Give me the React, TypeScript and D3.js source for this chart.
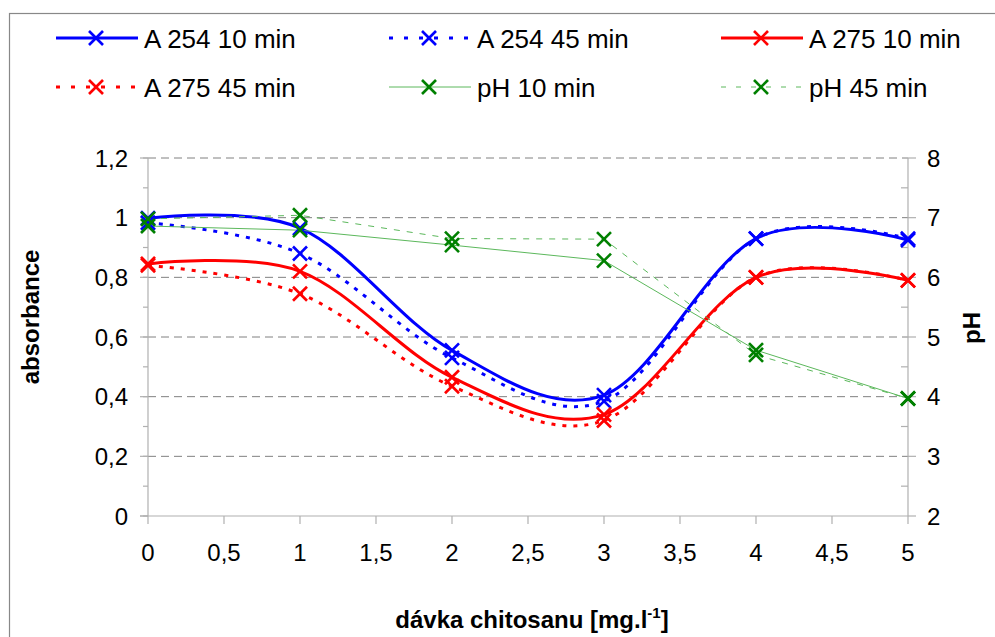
import React from "react";
import * as d3 from "d3";

const doses = [0, 1, 2, 3, 4, 5];
const a254_10 = [0.998, 0.965, 0.555, 0.405, 0.93, 0.925];
const a254_45 = [0.983, 0.88, 0.53, 0.385, 0.93, 0.93];
const a275_10 = [0.845, 0.82, 0.465, 0.34, 0.8, 0.79];
const a275_45 = [0.84, 0.745, 0.435, 0.32, 0.8, 0.79];
const ph_10 = [6.86, 6.79, 6.54, 6.28, 4.78, 3.97];
const ph_45 = [6.98, 7.04, 6.65, 6.64, 4.7, 3.97];

const xTicks = [0, 0.5, 1, 1.5, 2, 2.5, 3, 3.5, 4, 4.5, 5];
const yLeftTicks = [0, 0.2, 0.4, 0.6, 0.8, 1, 1.2];
const yRightTicks = [2, 3, 4, 5, 6, 7, 8];

const fmt = (v: number) => String(+v.toFixed(2)).replace(".", ",");

type Series = {
  name: string;
  values: number[];
  axis: "L" | "R";
  color: string;
  width: number;
  dash: string | null;
  legendDash: string | null;
  smooth: boolean;
  lineColor?: string;
};

const series: Series[] = [
  { name: "A 254 10 min", values: a254_10, axis: "L", color: "#0000ff", width: 3, dash: null, legendDash: null, smooth: true },
  { name: "A 254 45 min", values: a254_45, axis: "L", color: "#0000ff", width: 3, dash: "4,7", legendDash: "4,11", smooth: true },
  { name: "A 275 10 min", values: a275_10, axis: "L", color: "#ff0000", width: 3, dash: null, legendDash: null, smooth: true },
  { name: "A 275 45 min", values: a275_45, axis: "L", color: "#ff0000", width: 3, dash: "4,7", legendDash: "4,11", smooth: true },
  { name: "pH 10 min", values: ph_10, axis: "R", color: "#008000", width: 1, dash: null, legendDash: null, smooth: false, lineColor: "#5cb85c" },
  { name: "pH 45 min", values: ph_45, axis: "R", color: "#008000", width: 1, dash: "6,7", legendDash: "5,10", smooth: false, lineColor: "#5cb85c" },
];

const FONT = "'Liberation Sans', Arial, sans-serif";

function XMark({ cx, cy, color, r = 7, w = 2.6 }: { cx: number; cy: number; color: string; r?: number; w?: number }) {
  return (
    <g stroke={color} strokeWidth={w}>
      <line x1={cx - r} y1={cy - r} x2={cx + r} y2={cy + r} />
      <line x1={cx - r} y1={cy + r} x2={cx + r} y2={cy - r} />
    </g>
  );
}

export default function App() {
  const x = d3.scaleLinear().domain([0, 5]).range([148, 908]);
  const yL = d3.scaleLinear().domain([0, 1.2]).range([516, 158]);
  const yR = d3.scaleLinear().domain([2, 8]).range([516, 158]);

  const minorL = d3.range(0, 1.2001, 0.1);
  const minorR = d3.range(2.5, 8, 1);

  const legendCols = [56, 389, 721];
  const legendRows = [38, 87];

  return (
    <svg
      width={995}
      height={637}
      style={{ position: "absolute", left: 0, top: 0, background: "#fff" }}
      fontFamily={FONT}
    >
      <rect x={0} y={0} width={995} height={637} fill="#fff" />
      <rect x={9.5} y={13.5} width={1000} height={700} fill="none" stroke="#888" strokeWidth={1.2} />

      {/* gridlines */}
      {yLeftTicks.slice(1).map((t) => (
        <line key={"g" + t} x1={148} x2={908} y1={yL(t)} y2={yL(t)} stroke="#808080" strokeWidth={1} strokeDasharray="8,5" />
      ))}

      {/* axes */}
      <g stroke="#b0b0b0" strokeWidth={1.2}>
        <line x1={148} x2={148} y1={158} y2={516} />
        <line x1={908} x2={908} y1={158} y2={516} />
        <line x1={140} x2={908} y1={516} y2={516} />
        {minorL.map((t) => (
          <line key={"ml" + t} x1={143} x2={148} y1={yL(t)} y2={yL(t)} />
        ))}
        {yLeftTicks.map((t) => (
          <line key={"tl" + t} x1={140} x2={148} y1={yL(t)} y2={yL(t)} />
        ))}
        {minorR.map((t) => (
          <line key={"mr" + t} x1={901} x2={908} y1={yR(t)} y2={yR(t)} />
        ))}
        {yRightTicks.map((t) => (
          <line key={"tr" + t} x1={908} x2={916} y1={yR(t)} y2={yR(t)} />
        ))}
        {xTicks.map((t) => (
          <line key={"tx" + t} x1={x(t)} x2={x(t)} y1={516} y2={524} />
        ))}
      </g>

      {/* tick labels */}
      <g fontSize={24} fill="#000">
        {yLeftTicks.map((t) => (
          <text key={"ll" + t} x={128} y={yL(t) + 8.5} textAnchor="end">
            {fmt(t)}
          </text>
        ))}
        {yRightTicks.map((t) => (
          <text key={"rl" + t} x={927} y={yR(t) + 8.5} textAnchor="start">
            {fmt(t)}
          </text>
        ))}
        {xTicks.map((t) => (
          <text key={"xl" + t} x={x(t)} y={561} textAnchor="middle">
            {fmt(t)}
          </text>
        ))}
      </g>

      {/* axis titles */}
      <text x={0} y={0} fontSize={24} fontWeight="bold" textAnchor="middle" transform={`translate(39,317) rotate(-90)`}>
        absorbance
      </text>
      <text x={0} y={0} fontSize={24} fontWeight="bold" textAnchor="middle" transform={`translate(980,328) rotate(-90)`}>
        pH
      </text>
      <text x={532} y={628} fontSize={24} fontWeight="bold" textAnchor="middle">
        dávka chitosanu [mg.l
        <tspan fontSize={15} dy={-10}>-1</tspan>
        <tspan dy={10}>]</tspan>
      </text>

      {/* series */}
      {series.map((s) => {
        const yy = s.axis === "L" ? yL : yR;
        const gen = d3
          .line<number>()
          .x((_, i) => x(doses[i]))
          .y((v) => yy(v))
          .curve(s.smooth ? d3.curveCardinal.tension(0) : d3.curveLinear);
        return (
          <g key={s.name}>
            <path
              d={gen(s.values) || ""}
              fill="none"
              stroke={s.lineColor || s.color}
              strokeWidth={s.width}
              strokeDasharray={s.dash || undefined}
            />
          </g>
        );
      })}
      {series.map((s) => {
        const yy = s.axis === "L" ? yL : yR;
        return (
          <g key={"m" + s.name}>
            {s.values.map((v, i) => (
              <XMark key={i} cx={x(doses[i])} cy={yy(v)} color={s.color} />
            ))}
          </g>
        );
      })}

      {/* legend */}
      {series.map((s, i) => {
        const cx = legendCols[i % 3];
        const cy = legendRows[Math.floor(i / 3)];
        return (
          <g key={"lg" + s.name}>
            <line
              x1={cx}
              x2={cx + 82}
              y1={cy}
              y2={cy}
              stroke={s.lineColor || s.color}
              strokeWidth={s.width}
              strokeDasharray={s.legendDash || undefined}
            />
            <XMark cx={cx + 40} cy={cy} color={s.color} />
            <text x={cx + 88} y={cy + 9.5} fontSize={26} fill="#000">
              {s.name}
            </text>
          </g>
        );
      })}
    </svg>
  );
}
